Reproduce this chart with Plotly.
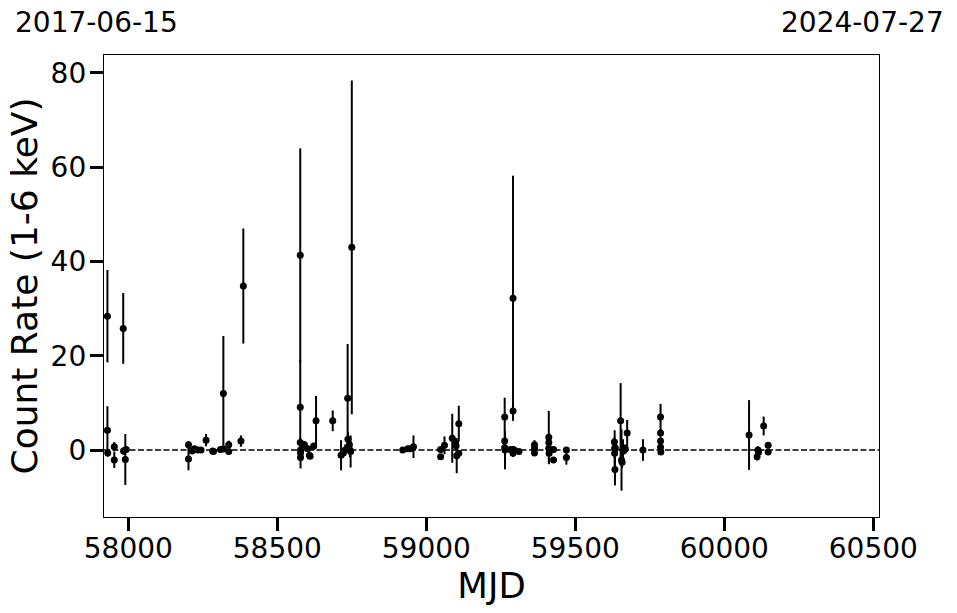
import plotly.graph_objects as go

mjd = [57930, 57930, 57931, 57953, 57953, 57983, 57984, 57990, 57993,
       58202, 58202, 58214, 58222, 58233, 58244, 58261, 58283, 58286, 58309, 58319, 58319,
       58337, 58337, 58378, 58386,
       58577, 58577, 58577, 58578, 58578, 58578, 58591, 58602, 58608, 58610, 58622, 58630,
       58686, 58714, 58721, 58728, 58736, 58737, 58742, 58744, 58746, 58750,
       58921, 58938, 58946, 58957, 59048, 59048, 59061, 59087, 59098, 59100, 59102, 59109, 59109,
       59263, 59263, 59263, 59264, 59283, 59291, 59291, 59291, 59291, 59295, 59311,
       59363, 59363, 59363, 59411, 59411, 59411, 59412, 59427, 59427, 59470, 59470,
       59631, 59632, 59632, 59633, 59634, 59652, 59655, 59657, 59660, 59665, 59668, 59674,
       59727, 59786, 59786, 59786, 59786, 59787,
       60083, 60110, 60113, 60115, 60132, 60147, 60147]
rate = [28.4, 4.2, -0.6, 0.7, -2.1, 25.8, -0.2, -2.0, 0.1,
        1.1, -1.9, -0.2, 0.3, 0.0, 0.0, 2.1, -0.2, -0.3, 0.1, 0.2, 12.0,
        1.1, -0.3, 1.9, 34.8,
        41.3, 9.1, 1.6, 0.0, -0.6, -1.6, 1.1, 0.3, -1.1, -1.3, 0.8, 6.2,
        6.2, -1.1, -0.6, 0.0, 11.0, 2.3, 1.1, 0.0, -0.3, 43.0,
        0.0, 0.3, 0.3, 0.7, 0.1, -1.4, 1.0, 2.5, 1.6, 0.9, -1.2, 5.6, -0.7,
        7.0, 1.9, 0.5, 0.0, 0.1, 32.2, 8.3, 0.0, -0.7, 0.0, -0.3,
        1.1, 0.4, -0.6, 2.7, 1.6, 0.4, -0.7, 0.1, -2.1, 0.0, -1.6,
        1.7, 0.4, -0.7, -4.1, 0.5, 6.2, -2.1, -2.6, 0.3, 0.1, 0.2, 3.6,
        0.0, 7.0, 3.6, 1.9, 0.6, -0.4,
        3.2, -1.4, 0.0, -0.4, 5.1, 1.0, -0.4]
err = [9.8, 5.1, 0.8, 1.0, 1.7, 7.5, 0.8, 5.4, 0.6,
       0.8, 2.4, 0.6, 0.5, 0.4, 0.4, 1.3, 0.5, 0.4, 0.5, 0.5, 12.2,
       0.9, 0.5, 1.2, 12.2,
       22.7, 10.0, 1.0, 0.8, 0.8, 2.3, 0.8, 0.6, 0.6, 0.5, 0.8, 5.3,
       2.2, 3.2, 1.0, 1.2, 11.5, 1.5, 1.5, 1.5, 3.4, 35.4,
       0.3, 0.4, 0.4, 2.4, 0.5, 0.6, 1.9, 5.2, 1.0, 1.0, 3.7, 3.8, 0.7,
       4.1, 1.0, 0.8, 4.1, 0.5, 26.0, 2.0, 0.8, 0.8, 0.8, 0.4,
       1.0, 0.6, 0.5, 5.6, 1.0, 0.8, 2.3, 0.6, 0.5, 0.5, 1.5,
       1.0, 3.8, 1.0, 3.4, 1.0, 8.0, 6.5, 1.2, 2.0, 1.0, 1.0, 2.8,
       2.3, 2.8, 0.8, 0.8, 0.8, 0.6,
       7.4, 0.8, 0.8, 0.8, 2.0, 0.5, 0.5]

date_left = "2017-06-15"
date_right = "2024-07-27"
x_ticks = [58000, 58500, 59000, 59500, 60000, 60500]
x_tick_labels = ["58000", "58500", "59000", "59500", "60000", "60500"]
y_ticks = [0, 20, 40, 60, 80]
y_tick_labels = ["0", "20", "40", "60", "80"]

FONT = "DejaVu Sans"

fig = go.Figure()
fig.add_trace(go.Scatter(
    x=mjd, y=rate, mode="markers",
    marker=dict(color="black", size=7),
    error_y=dict(type="data", array=err, visible=True, color="black",
                 thickness=2, width=0),
    showlegend=False,
))

fig.add_shape(type="line", xref="paper", yref="y", x0=0, x1=1, y0=0, y1=0,
              line=dict(color="black", width=1.5, dash="6px,2.5px"), layer="below")

fig.add_annotation(text=date_left, xref="paper", yref="paper",
                   x=-0.118, y=1.0, xanchor="left", yanchor="bottom", yshift=14,
                   showarrow=False, font=dict(family=FONT, size=28, color="black"))
fig.add_annotation(text=date_right, xref="paper", yref="paper",
                   x=1.087, y=1.0, xanchor="right", yanchor="bottom", yshift=14,
                   showarrow=False, font=dict(family=FONT, size=28, color="black"))

fig.update_layout(
    width=957, height=613,
    margin=dict(l=104, r=78, t=55, b=96),
    paper_bgcolor="white", plot_bgcolor="white",
    font=dict(family=FONT, color="black"),
    xaxis=dict(range=[57918.5, 60519], tickvals=x_ticks, ticktext=x_tick_labels,
               ticks="outside", automargin=False, ticklabelstandoff=-7,
               ticklen=13, tickwidth=2.8, tickcolor="black",
               showline=True, linecolor="black", linewidth=1.3, mirror=True,
               showgrid=False, zeroline=False,
               tickfont=dict(family=FONT, size=28),
               title=dict(text="MJD", font=dict(family=FONT, size=35.5), standoff=4)),
    yaxis=dict(range=[-14.2, 83.8], tickvals=y_ticks, ticktext=y_tick_labels,
               ticks="outside", automargin=False, ticklabelstandoff=-2,
               ticklen=13, tickwidth=2.8, tickcolor="black",
               showline=True, linecolor="black", linewidth=1.3, mirror=True,
               showgrid=False, zeroline=False,
               tickfont=dict(family=FONT, size=28),
               title=dict(text="Count Rate (1-6 keV)", font=dict(family=FONT, size=36), standoff=2)),
)

fig.write_html("out.html", config={"displayModeBar": False},
               post_script="document.body.style.margin='0px';")
